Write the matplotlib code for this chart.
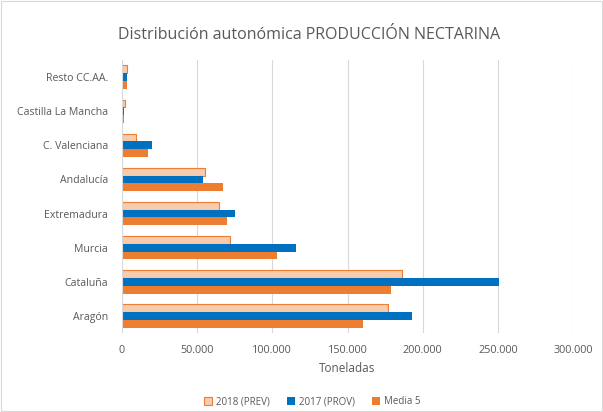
import matplotlib
matplotlib.use("Agg")
import matplotlib.pyplot as plt
import numpy as np
from matplotlib.patches import Rectangle

plt.rcParams['font.family'] = ['Open Sans', 'DejaVu Sans']

categories = ["Aragón", "Cataluña", "Murcia", "Extremadura", "Andalucía",
              "C. Valenciana", "Castilla La Mancha", "Resto CC.AA."]
prev_2018 = [177000, 186000, 72000, 64500, 55500, 9000, 2000, 3500]
prov_2017 = [193000, 251000, 116000, 75000, 54000, 20000, 1500, 3500]
media_5 = [160000, 179000, 103000, 70000, 67500, 17000, 1300, 3500]
xticks = [0, 50000, 100000, 150000, 200000, 250000, 300000]
xticklabels = ["0", "50.000", "100.000", "150.000", "200.000", "250.000", "300.000"]

grey = "#595959"
fig = plt.figure(figsize=(6.03, 4.12), dpi=100)
ax = fig.add_axes([0.2023, 0.192, 0.748, 0.662])

y = np.arange(len(categories))
h = 0.23
ax.barh(y + h, prev_2018, height=h, color="#F8CBAD", edgecolor="#ED7D31", linewidth=0.8, label="2018 (PREV)", zorder=3)
ax.barh(y, prov_2017, height=h, color="#0070C0", label="2017 (PROV)", zorder=3)
ax.barh(y - h, media_5, height=h, color="#ED7D31", label="Media 5", zorder=3)

ax.set_xlim(0, 300000)
ax.set_ylim(-0.5, len(categories) - 0.5)
ax.set_xticks(xticks)
ax.set_xticklabels(xticklabels)
ax.set_yticks(y)
ax.set_yticklabels(categories)
ax.tick_params(axis='x', length=0, labelsize=7.8, colors=grey, pad=9)
ax.tick_params(axis='y', length=0, labelsize=7.6, colors=grey, pad=10)
ax.grid(axis='x', color="#D9D9D9", linewidth=0.8, zorder=0)
for s in ax.spines.values():
    s.set_visible(False)
ax.axvline(0, color="#D9D9D9", linewidth=0.8, zorder=4)
ax.set_xlabel("Toneladas", fontsize=8.5, color=grey, labelpad=4)

fig.text(0.513, 0.915, "Distribución autonómica PRODUCCIÓN NECTARINA", ha='center', va='center',
         fontsize=11.5, color=grey)

leg = fig.legend(loc='center', bbox_to_anchor=(0.518, 0.025), ncol=3, frameon=False,
                 fontsize=7, handlelength=0.8, handleheight=0.8, columnspacing=1.8,
                 handletextpad=0.4, labelcolor=grey)

fig.patches.append(Rectangle((0.002, 0.002), 0.996, 0.996, transform=fig.transFigure,
                             fill=False, edgecolor="#D9D9D9", linewidth=0.8))
fig.savefig("out.png", dpi=100)
